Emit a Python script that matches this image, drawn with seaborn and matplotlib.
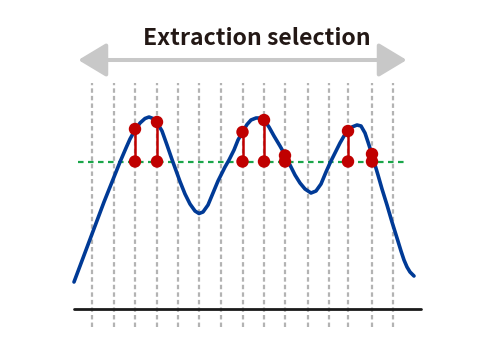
import numpy as np
import pandas as pd
import matplotlib
matplotlib.use("Agg")
import matplotlib.pyplot as plt
import seaborn as sns

# signal waveform (time, amplitude)
time = [0, 6, 12, 18, 24, 30, 36, 40, 46, 52, 56, 61, 66, 71, 75, 79, 83, 88, 93, 98,
        102, 106, 111, 116, 121, 125, 129, 134, 139, 144, 147, 151, 155, 160, 164, 168.5,
        173, 177, 182, 186, 190, 195, 200, 206, 211, 216, 221, 226, 231, 237, 242, 247,
        252, 256.5, 261, 266, 270, 274.3, 278, 283, 287, 291, 294, 298, 300, 304, 308,
        313, 318, 323, 327, 330, 333, 336, 340]
signal = [2.7, 4.3, 5.9, 7.5, 9.1, 10.7, 12.2, 13.2, 14.7, 16.1, 17.0, 17.9, 18.6, 19.05,
          19.2, 19.05, 18.65, 17.8, 16.4, 14.95, 13.85, 12.75, 11.5, 10.5, 9.8, 9.55, 9.7, 10.4,
          11.6, 12.8, 13.4, 14.2, 14.9, 15.9, 16.9, 17.7, 18.45, 18.9, 19.1, 19.1, 18.9,
          18.2, 17.3, 16.3, 15.4, 14.4, 13.4, 12.6, 12.0, 11.6, 11.8, 12.5, 13.7, 14.7,
          15.6, 16.6, 17.3, 17.8, 18.2, 18.4, 18.3, 17.6, 16.7, 15.45, 14.75, 13.4, 12.0,
          10.4, 8.7, 7.1, 5.8, 4.9, 4.2, 3.7, 3.3]

# sampling instants
sample_times = [18, 40, 61, 83, 104, 125, 147, 168.5, 190, 211, 234, 255, 274, 298, 319]

# selected samples above threshold
sel_times = [61, 83, 168.5, 190, 211, 274, 298]
sel_values = [18.0, 18.7, 17.7, 18.9, 15.35, 17.8, 15.5]
threshold = 14.75

title = "Extraction selection"

sns.set_theme(style="white")
fig = plt.figure(figsize=(4.8, 3.52), dpi=100)
ax = fig.add_axes([0, 0, 1, 1])
ax.set_xlim(-74, 406)
ax.set_ylim(-4.3, 30.9)
ax.axis("off")

# sampling grid
ax.vlines(sample_times, -1.8, 22.6, colors="#b3b3b3", linewidth=1.6,
          linestyles=(0, (2, 1.4)), zorder=1)

# baseline
ax.plot([0, 347], [0, 0], color="#1a1a1a", linewidth=2.0, zorder=2)

# threshold
ax.plot([4, 331], [threshold, threshold], color="#1aa64a", linewidth=1.6,
        linestyle=(0, (2.5, 2)), zorder=2)

# waveform
df = pd.DataFrame({"t": time, "v": signal})
sns.lineplot(data=df, x="t", y="v", ax=ax, color="#003a96", linewidth=2.6,
             sort=False, estimator=None, zorder=3)

# selection sticks and markers
ax.vlines(sel_times, threshold, sel_values, colors="#c00000", linewidth=1.8, zorder=4)
pts = pd.DataFrame({"t": sel_times + sel_times,
                    "v": sel_values + [threshold] * len(sel_times)})
sns.scatterplot(data=pts, x="t", y="v", ax=ax, color="#c00000", s=80,
                edgecolor="none", zorder=5)

# double arrow and title
ax.annotate("", xy=(332.7, 24.9), xytext=(4.3, 24.9),
            arrowprops=dict(arrowstyle="<|-|>,head_length=17.3,head_width=10.4",
                            mutation_scale=1, color="#c8c8c8", lw=2.9,
                            shrinkA=0, shrinkB=0))
ax.text(182.7, 26.4, title, ha="center", va="baseline", fontsize=16.6,
        fontweight="bold", color="#231815",
        family=["Noto Sans CJK JP", "DejaVu Sans"])

ax.set_xlabel("")
ax.set_ylabel("")
fig.savefig("out.png", dpi=100)
